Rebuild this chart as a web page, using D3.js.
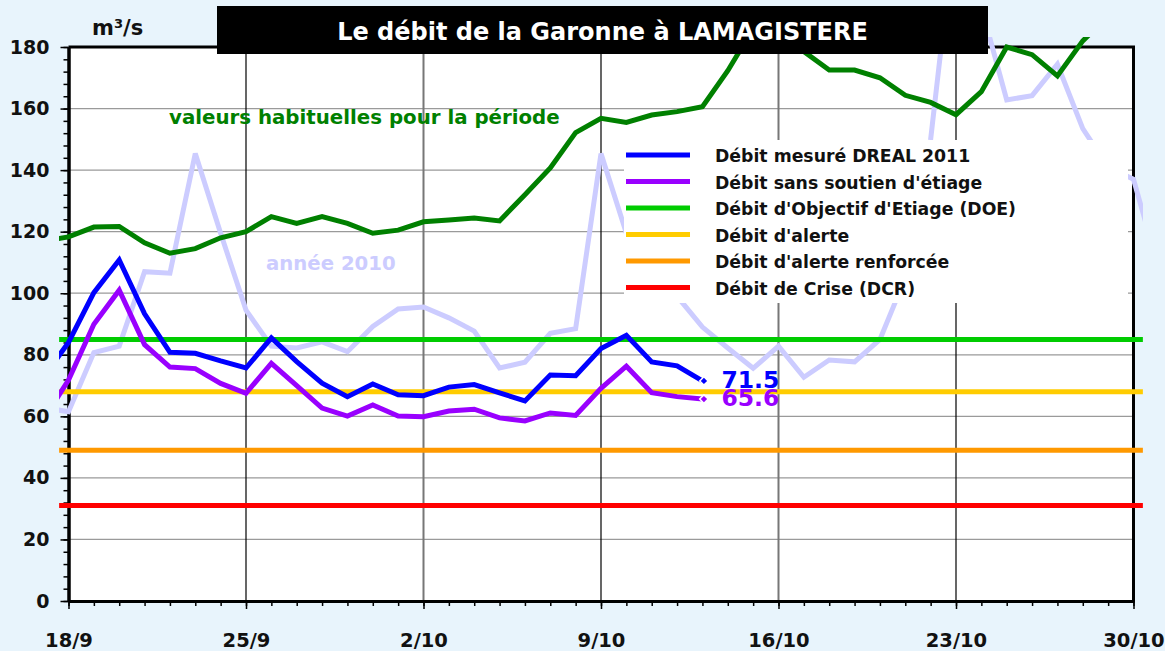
<!DOCTYPE html>
<html><head><meta charset="utf-8">
<script src="https://cdn.jsdelivr.net/npm/d3@7"></script>
<style>
html,body{margin:0;padding:0;background:#e8f4fc;}
svg{display:block;font-family:"DejaVu Sans",Verdana,sans-serif;font-weight:bold;}
</style></head><body>
<svg id="c" width="1165" height="651"></svg>
<script>
// ---------- data ----------
// day index 0 = 18/9 ; series start on 17/9 (index -1)
const firstDay = -1;
const tickDays   = [0, 7, 14, 21, 28, 35, 42];
const tickLabels = ["18/9", "25/9", "2/10", "9/10", "16/10", "23/10", "30/10"];
const yTickValues = [0, 20, 40, 60, 80, 100, 120, 140, 160, 180];

const mesure2011 = [72.6, 84.0, 100.2, 110.8, 93.3, 80.8, 80.5, 78.0, 75.7, 85.5, 77.8, 70.8, 66.4, 70.5, 67.0, 66.7, 69.5, 70.3, 67.6, 65.0, 73.4, 73.2, 82.0, 86.3, 77.7, 76.4, 71.5];
const sansSoutien = [58.8, 71.8, 89.9, 101.0, 83.3, 76.0, 75.5, 70.7, 67.5, 77.2, 70.0, 62.7, 60.1, 63.7, 60.1, 59.9, 61.7, 62.3, 59.5, 58.5, 61.1, 60.3, 69.1, 76.3, 67.7, 66.4, 65.6];
const habituelles = [116.9, 118.3, 121.5, 121.7, 116.4, 113.0, 114.5, 118.0, 120.0, 124.9, 122.7, 124.9, 122.7, 119.5, 120.5, 123.2, 123.8, 124.4, 123.5, 132.0, 140.7, 152.2, 156.8, 155.5, 157.9, 159.0, 160.6, 172.3, 186.0, 186.0, 178.5, 172.5, 172.5, 170.0, 164.3, 162.0, 158.0, 165.5, 180.0, 177.5, 170.6, 182.0, 190.0, 190.0, 188.0];
const annee2010 = [62.9, 61.5, 80.7, 82.8, 107.0, 106.5, 145.4, 119.5, 94.5, 82.8, 82.2, 84.2, 81.0, 89.2, 94.9, 95.5, 92.0, 87.7, 75.7, 77.6, 87.0, 88.5, 145.4, 119.5, 107.0, 99.0, 89.0, 82.2, 75.6, 82.8, 72.7, 78.3, 77.7, 85.0, 105.0, 150.0, 222.0, 193.0, 162.8, 164.2, 174.4, 153.5, 141.0, 137.0, 108.0];

const seuilValues = [85, 68, 49, 31];
const seuilColors = ["#00cc00", "#ffcc00", "#ff9900", "#ff0000"];

const legendLabels = ["Débit mesuré DREAL 2011", "Débit sans soutien d'étiage", "Débit d'Objectif d'Etiage (DOE)", "Débit d'alerte", "Débit d'alerte renforcée", "Débit de Crise (DCR)"];
const legendColors = ["#0000ff", "#9900ff", "#00cc00", "#ffcc00", "#ff9900", "#ff0000"];

const titleText = "Le débit de la Garonne à LAMAGISTERE";
const unitText = "m³/s";
const habText = "valeurs habituelles pour la période";
const label2010 = "année 2010";

// ---------- layout ----------
const svg = d3.select("#c");
const L = 68.5, R = 1133.5, T = 47, B = 601;
const x = d3.scaleLinear().domain([0, 42]).range([L, R]);
const y = d3.scaleLinear().domain([0, 180]).range([B, T]);

svg.append("rect").attr("width", 1165).attr("height", 651).attr("fill", "#e8f4fc");
svg.append("rect").attr("x", L).attr("y", T).attr("width", R - L).attr("height", B - T).attr("fill", "#fff");

// horizontal grid
svg.append("g").selectAll("line").data(yTickValues.filter(v => v > 0 && v < 180)).join("line")
  .attr("x1", L).attr("x2", R).attr("y1", d => y(d)).attr("y2", d => y(d))
  .attr("stroke", "#9a9a9a").attr("stroke-width", 1.3);
// vertical grid (weekly)
svg.append("g").selectAll("line").data(tickDays.slice(1, -1)).join("line")
  .attr("x1", d => x(d)).attr("x2", d => x(d)).attr("y1", T).attr("y2", B)
  .attr("stroke", (d, i) => i % 2 === 0 ? "#000" : "#777")
  .attr("stroke-width", (d, i) => i % 2 === 0 ? 1.2 : 2);

// axes
const yMinor = svg.append("g").attr("transform", `translate(${L},0)`)
  .call(d3.axisLeft(y).tickValues(d3.range(0, 181, 4)).tickSize(5).tickSizeOuter(0).tickFormat(""));
const yMajor = svg.append("g").attr("transform", `translate(${L},0)`)
  .call(d3.axisLeft(y).tickValues(yTickValues).tickSize(8).tickSizeOuter(0).tickPadding(11));
const xMinor = svg.append("g").attr("transform", `translate(0,${B})`)
  .call(d3.axisBottom(x).tickValues(d3.range(0, 43)).tickSize(5).tickSizeOuter(0).tickFormat(""));
const xMajor = svg.append("g").attr("transform", `translate(0,${B})`)
  .call(d3.axisBottom(x).tickValues(tickDays).tickSize(8).tickSizeOuter(0).tickFormat((d, i) => tickLabels[i]));
[yMinor, yMajor, xMinor, xMajor].forEach(g => {
  g.selectAll("line").attr("stroke", "#000").attr("stroke-width", 1.5);
  g.select(".domain").attr("stroke", "#000").attr("stroke-width", 3);
});
yMajor.selectAll("text").attr("font-size", 19).attr("font-family", "DejaVu Sans").attr("font-weight", "bold").attr("fill", "#111");
xMajor.selectAll("text").attr("font-size", 19.5).attr("font-family", "DejaVu Sans").attr("font-weight", "bold").attr("fill", "#111")
  .attr("y", 46).attr("dy", 0);
// top and right border
svg.append("line").attr("x1", L).attr("x2", R + 1.5).attr("y1", T).attr("y2", T).attr("stroke", "#000").attr("stroke-width", 3);
svg.append("line").attr("x1", R).attr("x2", R).attr("y1", T).attr("y2", B + 1.5).attr("stroke", "#000").attr("stroke-width", 3);

// clip for series
const clipL = x(-0.37), clipR = x(42.37), clipT = 37;
svg.append("clipPath").attr("id", "clip").append("rect")
  .attr("x", clipL).attr("y", clipT).attr("width", clipR - clipL).attr("height", B - clipT + 5);
const plot = svg.append("g").attr("clip-path", "url(#clip)");

const line = d3.line().x((d, i) => x(i + firstDay)).y(d => y(d));
function drawSeries(arr, color) {
  plot.append("path").datum(arr).attr("d", line).attr("fill", "none")
    .attr("stroke", color).attr("stroke-width", 5).attr("stroke-linejoin", "miter").attr("stroke-miterlimit", 3);
}
drawSeries(annee2010, "#ccccff");
drawSeries(habituelles, "#008000");
seuilValues.forEach((v, i) => {
  plot.append("line").attr("x1", clipL).attr("x2", clipR).attr("y1", y(v)).attr("y2", y(v))
    .attr("stroke", seuilColors[i]).attr("stroke-width", 5);
});
drawSeries(sansSoutien, "#9900ff");
drawSeries(mesure2011, "#0000ff");

// end markers and labels
[[mesure2011, "#0000ff"], [sansSoutien, "#9900ff"]].forEach(([arr, col]) => {
  const li = arr.length - 1, day = li + firstDay, v = arr[li];
  svg.append("path").attr("d", d3.symbol(d3.symbolSquare).size(36)())
    .attr("transform", `translate(${x(day) + 1.5},${y(v)}) rotate(45)`).attr("fill", col)
    .attr("stroke", "#fff").attr("stroke-width", 1.5);
  svg.append("text").attr("x", x(day) + 19).attr("y", y(v) + 7).attr("font-size", 23.5)
    .attr("fill", col).text(v.toFixed(1));
});

// legend
const lg = svg.append("g");
lg.append("rect").attr("x", 624).attr("y", 140).attr("width", 1128 - 624).attr("height", 303 - 140).attr("fill", "#fff");
legendLabels.forEach((lab, i) => {
  const ly = 155 + i * 26.5;
  lg.append("line").attr("x1", 626).attr("x2", 690).attr("y1", ly).attr("y2", ly)
    .attr("stroke", legendColors[i]).attr("stroke-width", 5);
  lg.append("text").attr("x", 715).attr("y", ly + 7).attr("font-size", 17.3).attr("fill", "#111").text(lab);
});

// title
svg.append("rect").attr("x", 217).attr("y", 6).attr("width", 988 - 217).attr("height", 48).attr("fill", "#000");
svg.append("text").attr("x", 602.5).attr("y", 40).attr("text-anchor", "middle").attr("font-size", 24)
  .attr("fill", "#fff").text(titleText);

// other texts
svg.append("text").attr("x", 92).attr("y", 35).attr("font-size", 21).attr("fill", "#111").text(unitText);
svg.append("text").attr("x", 169).attr("y", 124).attr("font-size", 19.8).attr("fill", "#008000").text(habText);
svg.append("text").attr("x", 266).attr("y", 270).attr("font-size", 19.7).attr("fill", "#ccccff").text(label2010);
</script>
</body></html>
